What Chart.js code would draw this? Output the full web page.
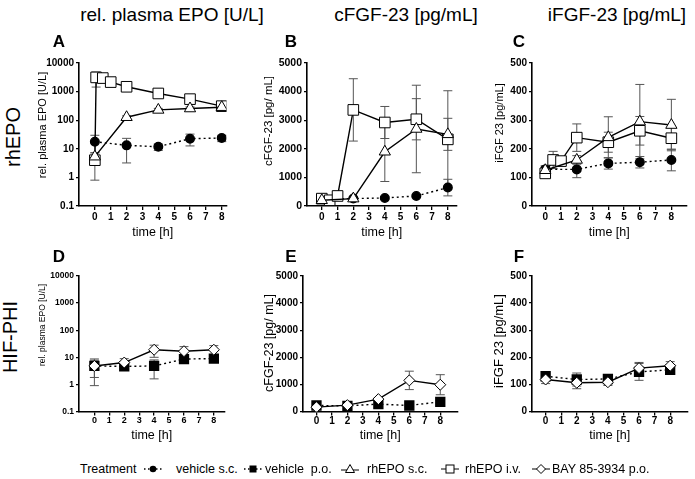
<!DOCTYPE html>
<html>
<head>
<meta charset="utf-8">
<script src="https://cdn.jsdelivr.net/npm/chart.js@4"></script>
<style>
  body { margin: 0; background: #fff; }
  #fig { position: relative; width: 695px; height: 479px; overflow: hidden; background: #fff;
         font-family: 'Liberation Sans', Arial, sans-serif; color: #000; }
  canvas { position: absolute; }
  .c { position: absolute; transform: translate(-50%, -50%); white-space: nowrap; line-height: 1; }
  .r { position: absolute; transform: translate(-50%, -50%) rotate(-90deg); white-space: nowrap; line-height: 1; }
  .lg { position: absolute; top: 463px; font-size: 12.5px; line-height: 1; white-space: nowrap; }
  .lgm { position: absolute; top: 462px; }
</style>
</head>
<body>
<div id="fig">
  <canvas id="cA"></canvas>
  <canvas id="cB"></canvas>
  <canvas id="cC"></canvas>
  <canvas id="cD"></canvas>
  <canvas id="cE"></canvas>
  <canvas id="cF"></canvas>

  <!-- column headers -->
  <div class="c" style="left:172px; top:14px; font-size:19px">rel. plasma EPO [U/L]</div>
  <div class="c" style="left:406px; top:14px; font-size:19px">cFGF-23 [pg/mL]</div>
  <div class="c" style="left:617px; top:14px; font-size:19px">iFGF-23 [pg/mL]</div>

  <!-- row labels -->
  <div class="r" style="left:13px; top:137px; font-size:20px">rhEPO</div>
  <div class="r" style="left:10px; top:337px; font-size:20px">HIF-PHI</div>

  <!-- panel letters -->
  <div class="c" style="left:59px; top:41px; font-size:17px; font-weight:bold">A</div>
  <div class="c" style="left:291px; top:41px; font-size:17px; font-weight:bold">B</div>
  <div class="c" style="left:519px; top:41px; font-size:17px; font-weight:bold">C</div>
  <div class="c" style="left:59px; top:256px; font-size:17px; font-weight:bold">D</div>
  <div class="c" style="left:291px; top:256px; font-size:17px; font-weight:bold">E</div>
  <div class="c" style="left:519px; top:256px; font-size:17px; font-weight:bold">F</div>

  <!-- y axis titles -->
  <div class="r" style="left:42px; top:125px; font-size:11px">rel. plasma EPO [U/L]</div>
  <div class="r" style="left:269px; top:121px; font-size:11.5px">cFGF-23 [pg/ mL]</div>
  <div class="r" style="left:499px; top:123px; font-size:11px">iFGF 23 [pg/mL]</div>
  <div class="r" style="left:42px; top:325px; font-size:8.5px">rel. plasma EPO [U/L]</div>
  <div class="r" style="left:269px; top:343px; font-size:12.5px">cFGF-23 [pg/ mL]</div>
  <div class="r" style="left:498px; top:341px; font-size:13px">iFGF 23 [pg/mL]</div>

  <!-- legend -->
  <div class="lg" style="left:80px">Treatment</div>
  <svg class="lgm" style="left:143px" width="20" height="14">
    <line x1="1" y1="7" x2="19" y2="7" stroke="#000" stroke-width="1.3" stroke-dasharray="1.5,2.5"/>
    <circle cx="10" cy="7" r="3.3" fill="#000"/>
  </svg>
  <div class="lg" style="left:176px">vehicle s.c.</div>
  <svg class="lgm" style="left:243px" width="20" height="14">
    <line x1="1" y1="7" x2="19" y2="7" stroke="#000" stroke-width="1.3" stroke-dasharray="1.5,2.5"/>
    <rect x="6.5" y="3.5" width="7" height="7" fill="#000"/>
  </svg>
  <div class="lg" style="left:265px">vehicle&nbsp; p.o.</div>
  <svg class="lgm" style="left:340px" width="20" height="14">
    <line x1="1" y1="8" x2="19" y2="8" stroke="#000" stroke-width="1"/>
    <polygon points="10,2.5 14.5,10.5 5.5,10.5" fill="#fff" stroke="#000" stroke-width="1"/>
  </svg>
  <div class="lg" style="left:367px">rhEPO s.c.</div>
  <svg class="lgm" style="left:440px" width="20" height="14">
    <line x1="1" y1="7" x2="19" y2="7" stroke="#000" stroke-width="1"/>
    <rect x="6" y="3" width="8" height="8" fill="#fff" stroke="#000" stroke-width="1"/>
  </svg>
  <div class="lg" style="left:465px">rhEPO i.v.</div>
  <svg class="lgm" style="left:531px" width="20" height="14">
    <line x1="1" y1="7" x2="19" y2="7" stroke="#000" stroke-width="1"/>
    <polygon points="10,2.5 14.5,7 10,11.5 5.5,7" fill="#fff" stroke="#000" stroke-width="1"/>
  </svg>
  <div class="lg" style="left:552px">BAY 85-3934 p.o.</div>
</div>

<script>
// ---- time axis ----
const xTicks = [0, 1, 2, 3, 4, 5, 6, 7, 8];
const hours = [0, 2, 4, 6, 8];
const hoursIvA = [0, 0.08, 0.5, 1, 2, 4, 6, 8];   // rhEPO i.v. in panel A (pre-dose + 5 min)
const hoursIv = [0, 0.5, 1, 2, 4, 6, 8];

// ---- y tick values ----
const epoTicks = [0.1, 1, 10, 100, 1000, 10000];
const cfgfTicks = [0, 1000, 2000, 3000, 4000, 5000];
const ifgfTicks = [0, 100, 200, 300, 400, 500];

// ---- A: rel. plasma EPO, rhEPO groups ----
const epoVehSc = [17.7, 13.2, 11.8, 22.6, 23.8];
const epoVehScErr = [12, 10, 3, 10, 6];
const epoRhSc = [5.3, 127, 229, 256, 285];
const epoRhScErr = [2, 15, 30, 35, 40];
const epoRhIv = [4, 3140, 2970, 2150, 1475, 860, 545, 310];
const epoRhIvErr = [3.2, 1700, 300, 350, 465, 120, 90, 40];

// ---- B: cFGF-23, rhEPO groups ----
const cfgfVehSc = [250, 260, 281, 351, 644];
const cfgfVehScErr = [30, 30, 40, 50, 290];
const cfgfRhSc = [200, 258, 1897, 2693, 2506];
const cfgfRhScErr = [40, 40, 1040, 1530, 560];
const cfgfRhIv = [258, 200, 351, 3360, 2920, 3033, 2330];
const cfgfRhIvErr = [50, 40, 60, 1090, 560, 720, 1700];

// ---- C: iFGF-23, rhEPO groups ----
const ifgfVehSc = [128, 128, 149, 153, 161];
const ifgfVehScErr = [12, 29, 20, 20, 38];
const ifgfRhSc = [125, 161, 240, 295, 283];
const ifgfRhScErr = [15, 15, 72, 130, 90];
const ifgfRhIv = [114, 161, 157, 239, 223, 263, 237];
const ifgfRhIvErr = [15, 30, 12, 48, 35, 50, 40];

// ---- D: rel. plasma EPO, HIF-PHI groups ----
const epoVehPo = [4.8, 4.6, 4.8, 8.6, 9.0];
const epoVehPoErr = [3.9, 1.2, 3.2, 1, 1.5];
const epoBay = [4.8, 6.4, 19, 16.8, 19];
const epoBayErr = [3, 2.5, 9, 8, 8];

// ---- E: cFGF-23, HIF-PHI groups ----
const cfgfVehPo = [222, 210, 272, 222, 358];
const cfgfVehPoErr = [30, 25, 40, 30, 40];
const cfgfBay = [160, 235, 457, 1148, 988];
const cfgfBayErr = [40, 40, 60, 340, 370];

// ---- F: iFGF-23, HIF-PHI groups ----
const ifgfVehPo = [130, 118, 120, 146, 154];
const ifgfVehPoErr = [8, 24, 8, 31, 10];
const ifgfBay = [118, 106, 108, 160, 169];
const ifgfBayErr = [15, 22, 12, 21, 15];

const FONT = "'Liberation Sans', Arial, sans-serif";

function pts(xs, ys) {
    return xs.map((x, i) => ({ x: x, y: ys[i] }));
}

// marker styles per treatment
function vehSc(xs, ys, err) {
    return { data: pts(xs, ys), err: err, order: 2, pointStyle: 'circle', pointRadius: 4.3,
             pointBackgroundColor: '#000', pointBorderColor: '#000', borderColor: '#000',
             borderWidth: 1.4, borderDash: [2, 3] };
}
function vehPo(xs, ys, err) {
    return { data: pts(xs, ys), err: err, order: 2, pointStyle: 'rect', pointRadius: 6.3,
             pointBackgroundColor: '#000', pointBorderColor: '#000', borderColor: '#000',
             borderWidth: 1.4, borderDash: [2, 3] };
}
function rhSc(xs, ys, err) {
    return { data: pts(xs, ys), err: err, order: 0, pointStyle: 'triangle', pointRadius: 6.5,
             pointBackgroundColor: '#fff', pointBorderColor: '#000', pointBorderWidth: 1,
             borderColor: '#000', borderWidth: 1.4 };
}
function rhIv(xs, ys, err) {
    return { data: pts(xs, ys), err: err, order: 1, pointStyle: 'rect', pointRadius: 7.5,
             pointBackgroundColor: '#fff', pointBorderColor: '#000', pointBorderWidth: 1,
             borderColor: '#000', borderWidth: 1.4 };
}
function bay(xs, ys, err) {
    return { data: pts(xs, ys), err: err, order: 0, pointStyle: 'rectRot', pointRadius: 5.5,
             pointBackgroundColor: '#fff', pointBorderColor: '#000', pointBorderWidth: 1,
             borderColor: '#000', borderWidth: 1.4 };
}

// draws SEM whiskers under the markers
const errorBars = {
    id: 'errorBars',
    beforeDatasetsDraw(chart) {
        const ctx = chart.ctx, xs = chart.scales.x, ys = chart.scales.y;
        ctx.save();
        ctx.strokeStyle = '#555';
        ctx.lineWidth = 1;
        chart.data.datasets.forEach(ds => {
            ds.data.forEach((p, i) => {
                const e = ds.err[i];
                if (!e) return;
                const x = xs.getPixelForValue(p.x);
                const hi = ys.getPixelForValue(p.y + e);
                const loOk = p.y - e > ys.min;
                const lo = loOk ? ys.getPixelForValue(p.y - e) : ys.bottom;
                ctx.beginPath();
                ctx.moveTo(x, hi); ctx.lineTo(x, lo);
                ctx.moveTo(x - 4.5, hi); ctx.lineTo(x + 4.5, hi);
                if (loOk) { ctx.moveTo(x - 4.5, lo); ctx.lineTo(x + 4.5, lo); }
                ctx.stroke();
            });
        });
        ctx.restore();
    }
};

function panel(id, g, yType, yTicks, datasets) {
    const canvas = document.getElementById(id);
    canvas.width = g.w;
    canvas.height = g.h;
    canvas.style.left = g.l + 'px';
    canvas.style.top = g.t + 'px';
    new Chart(canvas, {
        type: 'line',
        data: { datasets: datasets },
        options: {
            responsive: false,
            animation: false,
            layout: { padding: { top: g.padTop, right: g.padRight, left: 0, bottom: 0 } },
            elements: { line: { tension: 0 } },
            plugins: { legend: { display: false }, tooltip: { enabled: false } },
            scales: {
                x: {
                    type: 'linear', min: g.xMin, max: g.xMax,
                    afterBuildTicks: s => { s.ticks = xTicks.map(v => ({ value: v })); },
                    afterFit: s => { s.height = g.xAxisH; },
                    grid: { drawOnChartArea: false, tickLength: 4, color: '#000', lineWidth: 1.3 },
                    border: { color: '#000', width: 1.6 },
                    ticks: { color: '#000', padding: g.xPad, maxRotation: 0, autoSkip: false,
                             font: { family: FONT, size: g.xFont, weight: 'bold' },
                             callback: v => String(v) },
                    title: { display: true, text: 'time [h]', color: '#000',
                             font: { family: FONT, size: 12.5 }, padding: { top: 0, bottom: g.titlePad } }
                },
                y: {
                    type: yType, min: yTicks[0], max: yTicks[yTicks.length - 1],
                    afterBuildTicks: s => { s.ticks = yTicks.map(v => ({ value: v })); },
                    afterFit: s => { s.width = g.yAxisW; },
                    grid: { drawOnChartArea: false, tickLength: 3, color: '#000', lineWidth: 1.3 },
                    border: { color: '#000', width: 1.6 },
                    ticks: { color: '#000', padding: 2, autoSkip: false,
                             font: { family: FONT, size: g.yFont, weight: 'bold' },
                             callback: v => String(v) }
                }
            }
        },
        plugins: [errorBars]
    });
}

// row 1: plot area y 63..206 ; row 2: y 276..411.5
panel('cA', { l: 40, t: 38, w: 195, h: 202, padTop: 25, padRight: 2, yAxisW: 39, xAxisH: 34,
              xMin: -1.0, xMax: 8.3, xPad: 1, titlePad: 0, xFont: 10, yFont: 10 },
      'logarithmic', epoTicks,
      [vehSc(hours, epoVehSc, epoVehScErr), rhSc(hours, epoRhSc, epoRhScErr), rhIv(hoursIvA, epoRhIv, epoRhIvErr)]);

panel('cB', { l: 270, t: 38, w: 195, h: 202, padTop: 25, padRight: 2, yAxisW: 37, xAxisH: 34,
              xMin: -0.94, xMax: 8.55, xPad: 1, titlePad: 0, xFont: 10, yFont: 10.5 },
      'linear', cfgfTicks,
      [vehSc(hours, cfgfVehSc, cfgfVehScErr), rhSc(hours, cfgfRhSc, cfgfRhScErr), rhIv(hoursIv, cfgfRhIv, cfgfRhIvErr)]);

panel('cC', { l: 495, t: 38, w: 200, h: 202, padTop: 25, padRight: 0, yAxisW: 37, xAxisH: 34,
              xMin: -0.84, xMax: 8.96, xPad: 1, titlePad: 0, xFont: 10, yFont: 10 },
      'linear', ifgfTicks,
      [vehSc(hours, ifgfVehSc, ifgfVehScErr), rhSc(hours, ifgfRhSc, ifgfRhScErr), rhIv(hoursIv, ifgfRhIv, ifgfRhIvErr)]);

panel('cD', { l: 40, t: 255, w: 192, h: 190, padTop: 21, padRight: 2, yAxisW: 39, xAxisH: 33.5,
              xMin: -1.03, xMax: 8.7, xPad: 0, titlePad: 2, xFont: 9, yFont: 8.5 },
      'logarithmic', epoTicks,
      [vehPo(hours, epoVehPo, epoVehPoErr), bay(hours, epoBay, epoBayErr)]);

panel('cE', { l: 266, t: 255, w: 199, h: 190, padTop: 21, padRight: 2, yAxisW: 37, xAxisH: 33.5,
              xMin: -0.87, xMax: 9.1, xPad: 0, titlePad: 2, xFont: 10, yFont: 10 },
      'linear', cfgfTicks,
      [vehPo(hours, cfgfVehPo, cfgfVehPoErr), bay(hours, cfgfBay, cfgfBayErr)]);

panel('cF', { l: 495, t: 255, w: 200, h: 190, padTop: 21, padRight: 3, yAxisW: 37, xAxisH: 33.5,
              xMin: -0.875, xMax: 9.1, xPad: 0, titlePad: 2, xFont: 10, yFont: 10 },
      'linear', ifgfTicks,
      [vehPo(hours, ifgfVehPo, ifgfVehPoErr), bay(hours, ifgfBay, ifgfBayErr)]);
</script>
</body>
</html>
